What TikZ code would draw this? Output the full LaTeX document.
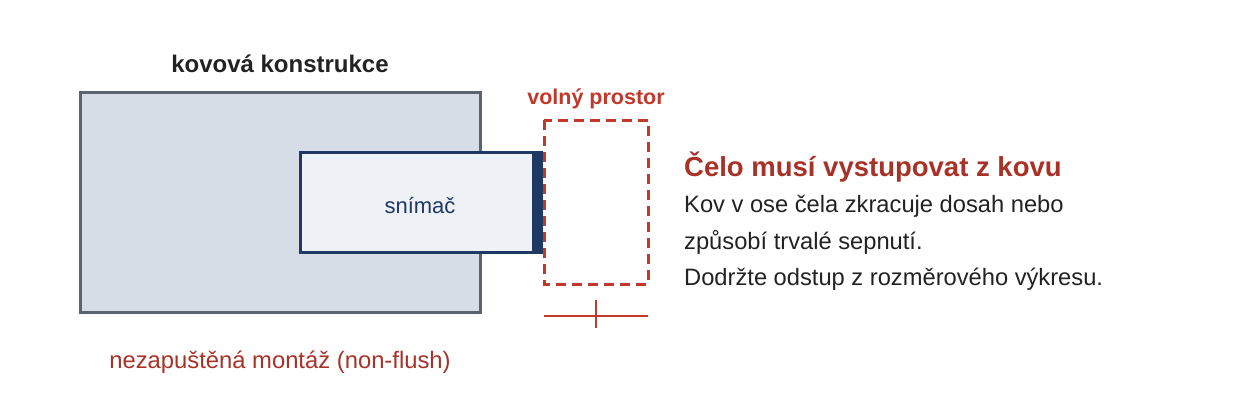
\documentclass[tikz,border=0pt]{standalone}
\usepackage{fontspec}
\setmainfont{Liberation Sans}
\definecolor{metal}{HTML}{D6DDE6}
\definecolor{metaledge}{HTML}{5A6470}
\definecolor{navy}{HTML}{1F3864}
\definecolor{sens}{HTML}{EEF1F6}
\definecolor{red}{HTML}{C0392B}
\definecolor{brick}{HTML}{A83228}
\definecolor{ink}{HTML}{222222}
\begin{document}
\begin{tikzpicture}[x=1pt,y=-1pt,
  lbl/.style={inner sep=0pt,anchor=base},
  body/.style={inner sep=0pt,anchor=base west,text=ink,font=\fontsize{23.7}{28}\selectfont}]
\useasboundingbox (0,0) rectangle (1240,400);
\draw[metaledge,fill=metal,line width=3] (80,92) rectangle (480,312);
\draw[navy,fill=sens,line width=3] (300,152) rectangle (537,252);
\fill[navy] (532,150.5) rectangle (543,253.5);
\draw[red,line width=3,dash pattern=on 10pt off 6pt] (544,120) rectangle (648,284);
\coordinate (d1) at (544,316); \coordinate (d2) at (648,316);
\coordinate (t1) at (596,300); \coordinate (t2) at (596,328);
\draw[red,line width=1.5] (d1) -- (d2);
\draw[red,line width=2] (t1) -- (t2);
\node[lbl,font=\bfseries\fontsize{24}{28}\selectfont,text=ink] (k) at (280,72) {kovová konstrukce};
\node[lbl,font=\bfseries\fontsize{21.5}{25}\selectfont,text=red] (v) at (596,104) {volný prostor};
\node[lbl,font=\fontsize{22}{26}\selectfont,text=navy] (s) at (420,213) {snímač};
\node[lbl,font=\fontsize{23.8}{28}\selectfont,text=brick] (n) at (280,368) {nezapuštěná montáž (non-flush)};
\node[body,font=\bfseries\fontsize{27.5}{32}\selectfont,text=brick] (t) at (684,176) {Čelo musí vystupovat z kovu};
\node[body] (l1) at (684,212) {Kov v ose čela zkracuje dosah nebo};
\node[body] (l2) at (684,249) {způsobí trvalé sepnutí.};
\node[body] (l3) at (684,285) {Dodržte odstup z rozměrového výkresu.};
\end{tikzpicture}
\end{document}
